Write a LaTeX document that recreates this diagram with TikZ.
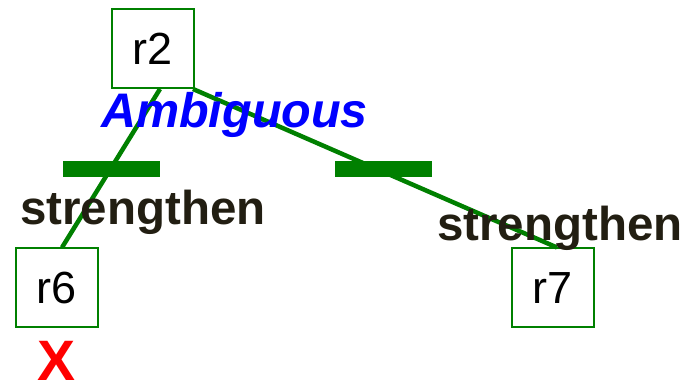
\documentclass[tikz,border=0pt]{standalone}
\usepackage{fontspec}
\setmainfont{Liberation Sans}
\usetikzlibrary{calc}
\definecolor{gr}{RGB}{0,128,0}
\definecolor{dk}{RGB}{34,30,18}
\begin{document}
\begin{tikzpicture}[x=1pt,y=-1pt,
  rbox/.style={draw=gr,line width=2pt,fill=white,minimum width=82pt,minimum height=79pt,inner sep=0pt,font=\fontsize{45}{50}\selectfont},
  bar/.style={fill=gr,minimum width=97pt,minimum height=16pt,inner sep=0pt},
  edge/.style={draw=gr,line width=4.5pt},
  lbl/.style={anchor=base west,inner sep=0pt,text=dk,font=\fontsize{47.5}{50}\selectfont\bfseries}]
\useasboundingbox (0,0) rectangle (686,387);
\node[bar] (b1) at (111.5,169) {};
\node[bar] (b2) at (383.5,169) {};
\node[rbox] (r2) at (153,48.5) {r2};
\node[rbox] (r6) at (57,288) {r6};
\node[rbox] (r7) at (553,288) {r7};
\draw[edge] ($(r2.south)+(7,0)$) -- ($(r6.north)+(5,0)$);
\draw[edge] ($(r2.south east)+(-2,0)$) -- ($(r7.north)+(4,0)$);
\node[lbl] (s1) at (20,225) {strengthen};
\node[lbl] (s2) at (437,241) {strengthen};
\node[anchor=base west,inner sep=0pt,text=blue,font=\fontsize{48.5}{50}\selectfont\bfseries\itshape] (amb) at (101,128) {Ambiguous};
\node[anchor=base,inner sep=0pt,text depth=0pt,text height=41pt,text=red,font=\fontsize{57}{57}\selectfont\bfseries] (x) at (57,381) {X};
\end{tikzpicture}
\end{document}
